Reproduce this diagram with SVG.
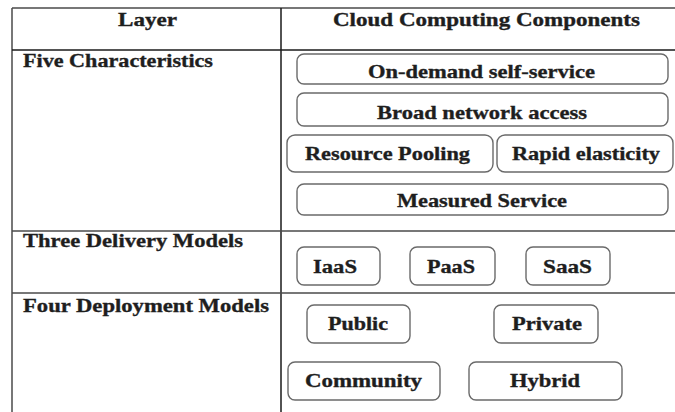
<svg xmlns="http://www.w3.org/2000/svg" width="675" height="412" viewBox="0 0 675 412">
  <style>
    .grid { stroke: #4a4a4a; stroke-width: 1.5; fill: none; }
    .grid-dark { stroke: #1a1a1a; stroke-width: 1.5; fill: none; }
    .box { fill: #ffffff; stroke: #6a6a6a; stroke-width: 1.4; }
    .t { font-family: "Liberation Serif", "Times New Roman", serif; font-weight: bold; font-size: 19px; fill: #1e1e1e; stroke: #1e1e1e; stroke-width: 0.35; }
  </style>
  <rect width="675" height="412" fill="#ffffff"/>

  <!-- table ruling -->
  <g id="table">
    <line class="grid" x1="12" y1="8" x2="675" y2="8"/>
    <line class="grid" x1="12" y1="8" x2="12" y2="412"/>
    <line class="grid-dark" x1="281" y1="8" x2="281" y2="412"/>
    <line class="grid-dark" x1="12" y1="50" x2="675" y2="50"/>
    <line class="grid" x1="12" y1="231" x2="675" y2="231"/>
    <line class="grid" x1="12" y1="293" x2="675" y2="293"/>
  </g>

  <!-- headers and layer names -->
  <g id="header-layer"><text class="t" x="118" y="26" textLength="59" lengthAdjust="spacingAndGlyphs">Layer</text></g>
  <g id="header-components"><text class="t" x="333" y="26" textLength="307" lengthAdjust="spacingAndGlyphs">Cloud Computing Components</text></g>
  <g id="layer-characteristics"><text class="t" x="23" y="67" textLength="190" lengthAdjust="spacingAndGlyphs">Five Characteristics</text></g>
  <g id="layer-delivery"><text class="t" x="23" y="247" textLength="220" lengthAdjust="spacingAndGlyphs">Three Delivery Models</text></g>
  <g id="layer-deployment"><text class="t" x="23" y="312" textLength="246" lengthAdjust="spacingAndGlyphs">Four Deployment Models</text></g>

  <!-- five characteristics -->
  <g id="on-demand">
    <rect class="box" x="297" y="54" width="371" height="30" rx="7"/>
    <text class="t" x="368" y="78" textLength="227" lengthAdjust="spacingAndGlyphs">On-demand self-service</text>
  </g>
  <g id="broad-network">
    <rect class="box" x="297" y="93" width="371" height="33" rx="7"/>
    <text class="t" x="377" y="119" textLength="210" lengthAdjust="spacingAndGlyphs">Broad network access</text>
  </g>
  <g id="resource-pooling">
    <rect class="box" x="287" y="135" width="206" height="37" rx="8"/>
    <text class="t" x="305" y="160" textLength="165" lengthAdjust="spacingAndGlyphs">Resource Pooling</text>
  </g>
  <g id="rapid-elasticity">
    <rect class="box" x="497" y="135" width="176" height="37" rx="8"/>
    <text class="t" x="512" y="160" textLength="148" lengthAdjust="spacingAndGlyphs">Rapid elasticity</text>
  </g>
  <g id="measured-service">
    <rect class="box" x="297" y="184" width="371" height="31" rx="7"/>
    <text class="t" x="397" y="207" textLength="170" lengthAdjust="spacingAndGlyphs">Measured Service</text>
  </g>

  <!-- delivery models -->
  <g id="iaas">
    <rect class="box" x="297" y="247" width="83" height="38" rx="7"/>
    <text class="t" x="313" y="273" textLength="44" lengthAdjust="spacingAndGlyphs">IaaS</text>
  </g>
  <g id="paas">
    <rect class="box" x="410" y="247" width="85" height="38" rx="7"/>
    <text class="t" x="427" y="273" textLength="48" lengthAdjust="spacingAndGlyphs">PaaS</text>
  </g>
  <g id="saas">
    <rect class="box" x="526" y="247" width="84" height="38" rx="7"/>
    <text class="t" x="543" y="273" textLength="49" lengthAdjust="spacingAndGlyphs">SaaS</text>
  </g>

  <!-- deployment models -->
  <g id="public">
    <rect class="box" x="307" y="305" width="103" height="38" rx="7"/>
    <text class="t" x="328" y="330" textLength="60" lengthAdjust="spacingAndGlyphs">Public</text>
  </g>
  <g id="private">
    <rect class="box" x="494" y="305" width="104" height="38" rx="7"/>
    <text class="t" x="512" y="330" textLength="70" lengthAdjust="spacingAndGlyphs">Private</text>
  </g>
  <g id="community">
    <rect class="box" x="288" y="362" width="152" height="38" rx="7"/>
    <text class="t" x="305" y="387" textLength="117" lengthAdjust="spacingAndGlyphs">Community</text>
  </g>
  <g id="hybrid">
    <rect class="box" x="469" y="362" width="153" height="38" rx="7"/>
    <text class="t" x="510" y="387" textLength="70" lengthAdjust="spacingAndGlyphs">Hybrid</text>
  </g>

  <!-- no connectors in this table layout -->
  <g id="connectors"/>
</svg>
